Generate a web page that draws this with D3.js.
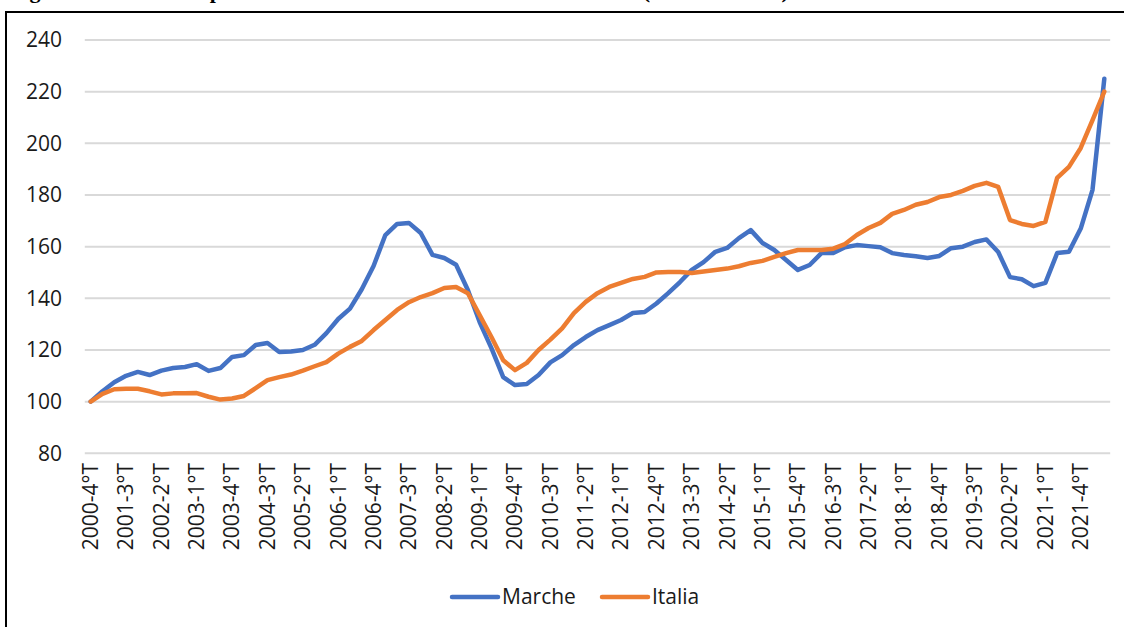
<!DOCTYPE html>
<html>
<head>
<meta charset="utf-8">
<script src="https://cdn.jsdelivr.net/npm/d3@7"></script>
<style>
  body { margin: 0; background: #fff; }
  svg { display: block; font-family: "Open Sans", sans-serif; }
</style>
</head>
<body>
<div class="chart-container"></div>
<script>
// quarters from 2000-4°T to 2022-2°T
const first_year = 2000;
const first_quarter = 4;
const n_quarters = 87;

const marche = [
   100, 104, 107.5, 110, 111.5, 110.3, 112, 113, 113.4, 114.5,
   111.9, 113, 117.3, 118, 121.9, 122.7, 119.2, 119.4, 120, 122,
   126.5, 132, 136, 143.5, 152.5, 164.5, 168.8, 169.2, 165.3, 156.8,
   155.6, 153, 143.2, 130.8, 120.7, 109.5, 106.4, 106.8, 110.3, 115.2,
   118, 121.9, 125, 127.7, 129.6, 131.6, 134.3, 134.7, 138, 142,
   146.3, 151, 154, 158, 159.5, 163.3, 166.4, 161.4, 158.7, 154.8,
   151, 152.9, 157.5, 157.5, 159.8, 160.6, 160.2, 159.8, 157.5, 156.8,
   156.3, 155.6, 156.4, 159.4, 160, 161.8, 162.8, 157.9, 148.2, 147.4,
   144.7, 146, 157.5, 158, 167, 182, 225
];

const italia = [
   100, 103, 104.8, 105, 105, 104, 102.8, 103.2, 103.2, 103.3,
   101.9, 100.8, 101.2, 102.2, 105.2, 108.3, 109.5, 110.5, 112, 113.7,
   115.3, 118.6, 121.2, 123.5, 127.7, 131.6, 135.5, 138.5, 140.5, 142,
   144, 144.4, 142, 133.5, 125, 116, 112.2, 115, 120, 124,
   128.4, 134.3, 138.6, 142, 144.4, 146, 147.5, 148.3, 150, 150.2,
   150.2, 149.8, 150.4, 151, 151.5, 152.4, 153.7, 154.5, 156, 157.5,
   158.7, 158.7, 158.7, 159.2, 161, 164.5, 167.2, 169.2, 172.7, 174.2,
   176.2, 177.3, 179.2, 180, 181.6, 183.5, 184.7, 183.1, 170.3, 168.8,
   168, 169.6, 186.6, 190.9, 198.2, 209, 220
];

const y_ticks = [80, 100, 120, 140, 160, 180, 200, 220, 240];

const series = [
   {name: 'Marche', values: marche, color: '#4472C4'},
   {name: 'Italia', values: italia, color: '#ED7D31'}
];

// title sits above the crop in the source, only its descenders show
const title_text = 'Figura 2 – Indice dei prezzi delle abitazioni nelle Marche e in Italia (2000-4°T=100)';

function build_quarters() {
   const out = [];
   let y = first_year, q = first_quarter;
   for (let i = 0; i < n_quarters; i++) {
      out.push(`${y}-${q}°T`);
      q++;
      if (q > 4) { q = 1; y++; }
   }
   return out;
}

function build_graph(width, height) {
   return d3.select('.chart-container')
      .append('svg')
      .attr('width', width)
      .attr('height', height);
}

function draw_frame(svg) {
   svg.append('text')
      .attr('x', 10)
      .attr('y', -2)
      .style('font-family', '"Liberation Serif", serif')
      .style('font-weight', 'bold')
      .style('font-size', '22px')
      .text(title_text);

   svg.append('path')
      .attr('d', 'M6,627 V12 H1124')
      .attr('fill', 'none')
      .attr('stroke', '#000')
      .attr('stroke-width', 2);
}

function create_y_axis(svg, yScale, x0, x1) {
   const g = svg.append('g').attr('class', 'y axis');
   g.selectAll('line')
      .data(y_ticks)
      .enter()
      .append('line')
      .attr('x1', x0)
      .attr('x2', x1)
      .attr('y1', d => yScale(d))
      .attr('y2', d => yScale(d))
      .attr('stroke', '#d9d9d9')
      .attr('stroke-width', 2);
   g.selectAll('text')
      .data(y_ticks)
      .enter()
      .append('text')
      .attr('x', 62)
      .attr('y', d => yScale(d))
      .attr('dy', '0.35em')
      .attr('text-anchor', 'end')
      .style('font-size', '21px')
      .style('fill', '#1a1a1a')
      .text(d => d);
}

function create_x_axis(svg, xScale, quarters) {
   const half = xScale.bandwidth() / 2;
   svg.append('g')
      .attr('class', 'x axis')
      .selectAll('text')
      .data(quarters.filter((d, i) => i % 3 === 0))
      .enter()
      .append('text')
      .attr('transform', d => `translate(${xScale(d) + half}, 463) rotate(-90)`)
      .attr('text-anchor', 'end')
      .attr('dy', '0.35em')
      .style('font-size', '21px')
      .style('fill', '#1a1a1a')
      .text(d => d);
}

function draw_lines(svg, xScale, yScale, quarters) {
   const half = xScale.bandwidth() / 2;
   const line = d3.line()
      .x((d, i) => xScale(quarters[i]) + half)
      .y(d => yScale(d));
   svg.selectAll('.series')
      .data(series)
      .enter()
      .append('path')
      .attr('class', 'series')
      .attr('d', d => line(d.values))
      .attr('fill', 'none')
      .attr('stroke', d => d.color)
      .attr('stroke-width', 4.5)
      .attr('stroke-linejoin', 'round')
      .attr('stroke-linecap', 'round');
}

function draw_legend(svg) {
   const items = [
      {s: series[0], x: 450},
      {s: series[1], x: 600}
   ];
   const g = svg.append('g').attr('class', 'legend');
   items.forEach(it => {
      g.append('line')
         .attr('x1', it.x + 2)
         .attr('x2', it.x + 48)
         .attr('y1', 597)
         .attr('y2', 597)
         .attr('stroke', it.s.color)
         .attr('stroke-width', 4.5)
         .attr('stroke-linecap', 'round');
      g.append('text')
         .attr('x', it.x + 52)
         .attr('y', 597)
         .attr('dy', '0.35em')
         .style('font-size', '21px')
         .style('fill', '#1a1a1a')
         .text(it.s.name);
   });
}

function build_chart() {
   const width = 1124, height = 627;
   const quarters = build_quarters();

   const xScale = d3.scaleBand()
      .domain(quarters)
      .range([84.8, 1110.2]);
   const yScale = d3.scaleLinear()
      .domain([80, 240])
      .range([453.3, 40]);

   const svg = build_graph(width, height);
   draw_frame(svg);
   create_y_axis(svg, yScale, 84.8, 1110.2);
   create_x_axis(svg, xScale, quarters);
   draw_lines(svg, xScale, yScale, quarters);
   draw_legend(svg);
}

build_chart();
</script>
</body>
</html>
